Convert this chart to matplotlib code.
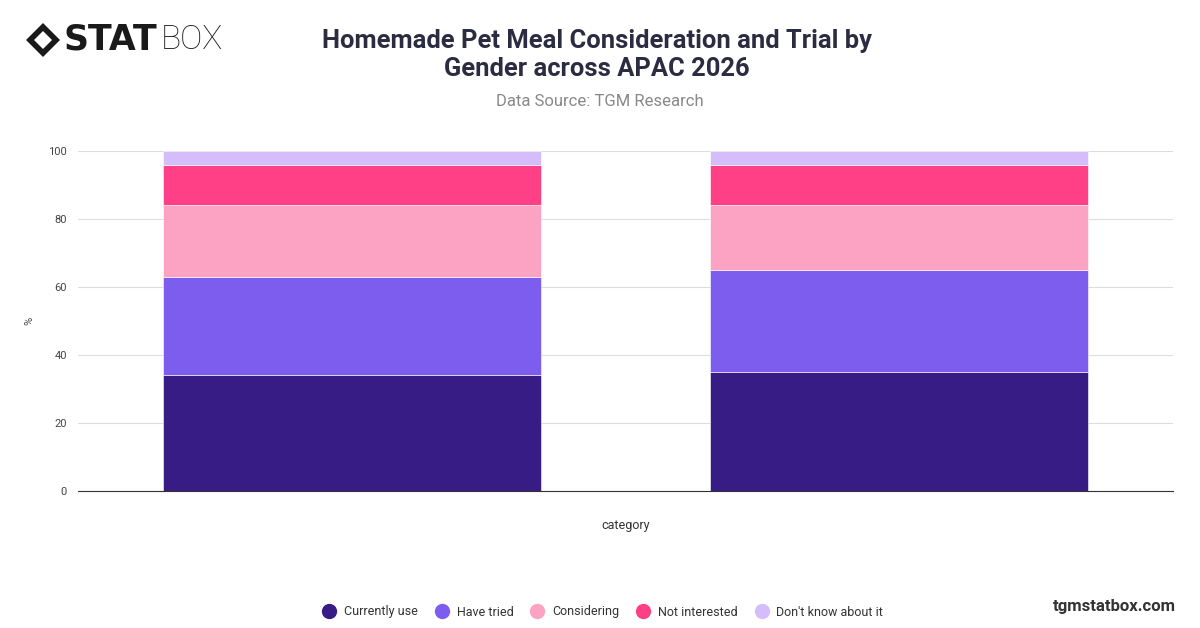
import matplotlib.pyplot as plt
import numpy as np
from matplotlib.lines import Line2D
from matplotlib.patches import Polygon

# Data
categories = ['Male', 'Female']
series_names = ['Currently use', 'Have tried', 'Considering', 'Not interested', "Don't know about it"]
currently_use = [34, 35]
have_tried = [29, 30]
considering = [21, 19]
not_interested = [12, 12]
dont_know = [4, 4]
colors = ['#371c85', '#7d5ded', '#fca3c4', '#ff4086', '#d5bdfc']

plt.rcParams['font.family'] = ['Roboto', 'DejaVu Sans']

fig = plt.figure(figsize=(12, 6.28), dpi=100)
ax = fig.add_axes([78 / 1200, 1 - 491 / 628, 1095 / 1200, 340 / 628])

x = np.arange(len(categories))
bottom = np.zeros(len(categories))
for name, vals, col in zip(series_names,
                           [currently_use, have_tried, considering, not_interested, dont_know],
                           colors):
    ax.bar(x, vals, width=0.69, bottom=bottom, color=col, label=name,
           edgecolor='white', linewidth=0.4, zorder=2)
    bottom += np.array(vals)

ax.set_xlim(-0.5, 1.5)
ax.set_ylim(0, 100)
ax.set_yticks([0, 20, 40, 60, 80, 100])
ax.set_xticks([])
ax.tick_params(axis='y', length=0, labelsize=8, colors='#444444', pad=8)
ax.grid(axis='y', color='#dddddd', linewidth=0.8, zorder=0)
for s in ['top', 'right', 'left']:
    ax.spines[s].set_visible(False)
ax.spines['bottom'].set_color('#333333')
ax.spines['bottom'].set_linewidth(0.8)
ax.set_xlabel('category', fontsize=9, color='#333333', labelpad=20)
ax.set_ylabel('%', fontsize=8, color='#444444', labelpad=10)

# Title and subtitle
fig.text(0.4975, 1 - 55 / 628, 'Homemade Pet Meal Consideration and Trial by\nGender across APAC 2026',
         ha='center', va='center', fontsize=18.4, fontweight='bold', color='#2b2b42',
         linespacing=1.2)
fig.text(0.5, 1 - 101 / 628, 'Data Source: TGM Research', ha='center', va='center',
         fontsize=12, color='#888888')

# Legend
handles = [Line2D([0], [0], marker='o', linestyle='', markersize=10,
                  markerfacecolor=c, markeredgecolor=c) for c in colors]
fig.legend(handles, series_names, loc='center', bbox_to_anchor=(0.5, 1 - 612 / 628),
           ncol=5, frameon=False, fontsize=9, handletextpad=0.2, columnspacing=0.9,
           labelcolor='#333333')

fig.text(1176 / 1200, 1 - 606 / 628, 'tgmstatbox.com', ha='right', va='center',
         fontsize=12, fontweight='bold', color='#333333')

# Logo
cx, cy = 43 / 1200, 1 - 40 / 628
w, h = 17 / 1200, 17 / 628
fig.patches.append(Polygon([[cx - w, cy], [cx, cy + h], [cx + w, cy], [cx, cy - h]],
                           closed=True, transform=fig.transFigure, facecolor='#1a1a1a'))
w2, h2 = 9 / 1200, 9 / 628
fig.patches.append(Polygon([[cx - w2, cy], [cx, cy + h2], [cx + w2, cy], [cx, cy - h2]],
                           closed=True, transform=fig.transFigure, facecolor='white'))
fig.text(64 / 1200, cy, 'STAT', ha='left', va='center', fontsize=25, fontweight='black',
         color='#1a1a1a', family=['DejaVu Sans'])
fig.text(161 / 1200, cy, 'BOX', ha='left', va='center', fontsize=24, fontweight='light',
         color='#1a1a1a')

fig.savefig('out.png', dpi=100)
